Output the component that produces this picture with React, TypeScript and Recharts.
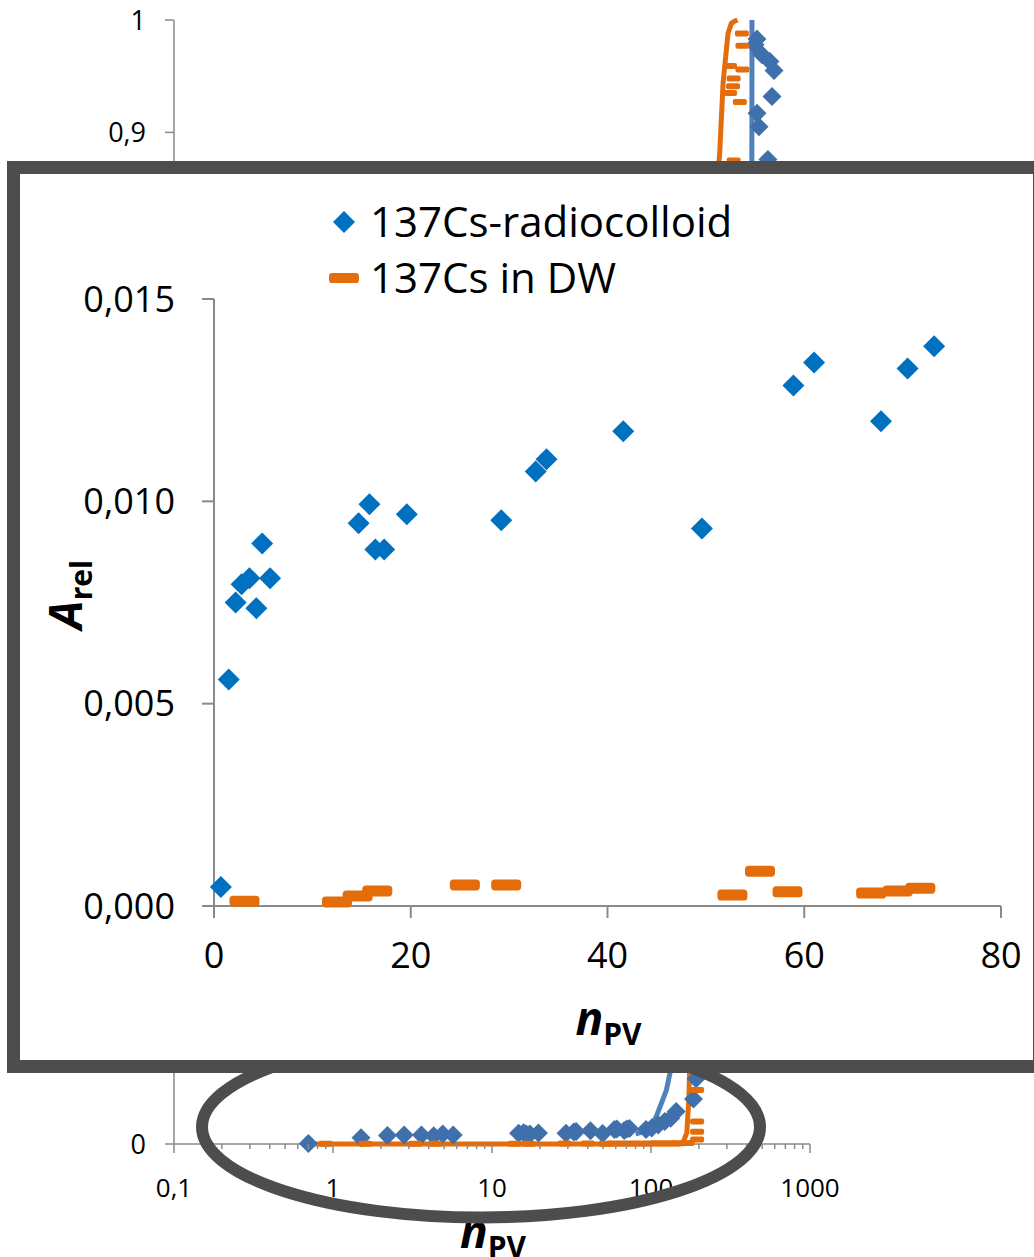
import React from 'react';
import { ScatterChart, Scatter, XAxis, YAxis, Legend, Label } from 'recharts';

// ---------- Inset (linear) data ----------
const colloidN = [0.7, 1.5, 2.2, 2.8, 3.6, 4.3, 4.9, 5.7, 14.7, 15.8, 16.4, 17.3, 19.6, 29.2, 32.7, 33.8, 41.6, 49.6, 58.9, 61.0, 67.8, 70.5, 73.2];
const colloidA = [0.00047, 0.0056, 0.0075, 0.00795, 0.0081, 0.00736, 0.00896, 0.0081, 0.00946, 0.00993, 0.00881, 0.00881, 0.00968, 0.00953, 0.01074, 0.01104, 0.01173, 0.00933, 0.01286, 0.01343, 0.01198, 0.01328, 0.01383];
const dwN = [3.1, 12.5, 14.6, 16.6, 25.5, 29.7, 52.7, 55.5, 58.3, 66.8, 69.5, 71.8];
const dwA = [0.00012, 0.0001, 0.00025, 0.00037, 0.00052, 0.00052, 0.00027, 0.00086, 0.00035, 0.00032, 0.00037, 0.00044];

// ---------- Background (log) data ----------
const colloidHighN = [93, 101, 111, 122, 133, 144, 185, 192, 195, 230, 300, 380, 430, 451, 475, 451, 464, 499, 560, 594, 577, 464, 478, 544];
const colloidHighA = [0.0128, 0.0142, 0.017, 0.02, 0.023, 0.029, 0.04, 0.058, 0.075, 0.2, 0.45, 0.7, 0.82, 0.862, 0.866, 0.978, 0.983, 0.969, 0.963, 0.955, 0.932, 0.917, 0.905, 0.876];
const dwBgN = [0.9, 1.6, 3.3, 4.4, 13.9, 17, 28.7, 40, 52, 58, 68, 80, 95, 110, 130, 150, 170, 195, 195, 195, 195, 331, 362, 314, 328, 331, 376, 314, 376, 373];
const dwBgA = [0.0002, 0.0002, 0.0002, 0.0002, 0.0002, 0.0003, 0.0005, 0.0004, 0.0003, 0.0004, 0.0004, 0.0005, 0.0005, 0.0006, 0.0006, 0.0007, 0.0008, 0.004, 0.011, 0.02, 0.048, 0.875, 0.927, 0.935, 0.941, 0.948, 0.956, 0.959, 0.977, 0.988];
const fitColloidN = [80, 91, 107, 125, 138, 170, 220, 300, 380, 420, 431, 431.5];
const fitColloidA = [0.009, 0.011, 0.023, 0.048, 0.077, 0.16, 0.3, 0.55, 0.75, 0.84, 0.862, 1.0];
const fitDwN = [0.75, 50, 150, 160, 168, 173, 176, 200, 240, 264, 271, 284, 305, 320, 335, 350];
const fitDwA = [0, 0, 0, 0.002, 0.01, 0.04, 0.08, 0.35, 0.7, 0.862, 0.884, 0.944, 0.988, 0.997, 0.999, 1.0];

// ---------- Ticks ----------
const insetXTicks = [0, 20, 40, 60, 80];
const insetYTicks = [0, 0.005, 0.01, 0.015];
// only the ticks of the background axis that are not covered by the inset
const bgYTicks = [0, 0.9, 1];
const bgMajorTicks = [0.1, 1, 10, 100, 1000];
const bgAllTicks = [0.1, 1, 10, 100].flatMap((d) => [1, 2, 3, 4, 5, 6, 7, 8, 9].map((k) => k * d)).concat([1000]);

const legendNames = ['137Cs-radiocolloid', '137Cs in DW'];

const FONT = "'Open Sans', 'Noto Sans', 'DejaVu Sans', sans-serif";
const AXIS = '#8a8a8a';
const BLUE_IN = '#0070C0';
const ORANGE = '#E46C0A';
const BLUE_BG = '#4070AB';
const BLUE_LINE = '#4F81BD';

const toPts = (xs: number[], ys: number[]) => xs.map((x, i) => ({ x, y: ys[i] }));

const insetColloid = toPts(colloidN, colloidA);
const insetDw = toPts(dwN, dwA);
const bgColloid = [...insetColloid, ...toPts(colloidHighN, colloidHighA)];
const bgDw = toPts(dwBgN, dwBgA);
const bgFitColloid = toPts(fitColloidN, fitColloidA);
const bgFitDw = toPts(fitDwN, fitDwA);

const diamond = (size: number, color: string) => (p: any) => {
  const { cx, cy } = p;
  if (cx == null || cy == null) return <g />;
  const h = size / 2;
  return <path d={`M${cx},${cy - h}L${cx + h},${cy}L${cx},${cy + h}L${cx - h},${cy}Z`} fill={color} />;
};
const dash = (w: number, h: number, color: string) => (p: any) => {
  const { cx, cy } = p;
  if (cx == null || cy == null) return <g />;
  return <rect x={cx - w / 2} y={cy - h / 2} width={w} height={h} rx={h / 3} fill={color} />;
};
const noShape = () => <g />;

const comma = (v: number, digits: number) => v.toFixed(digits).replace('.', ',');

const SubTitle = ({ x, y, main, sub, rotate }: any) => (
  <text
    x={x}
    y={y}
    textAnchor="middle"
    fontFamily={FONT}
    fill="#000"
    fontWeight="bold"
    transform={rotate ? `rotate(-90 ${x} ${y})` : undefined}
  >
    <tspan fontSize={46} fontStyle="italic">{main}</tspan>
    <tspan fontSize={30} dy={10}>{sub}</tspan>
  </text>
);

const LogTick = (props: any) => {
  const { x, y, payload } = props;
  const v = payload.value;
  const major = bgMajorTicks.some((m) => Math.abs(m - v) < 1e-9);
  return (
    <g>
      <line x1={x} x2={x} y1={y} y2={y + (major ? 9 : 5)} stroke={AXIS} strokeWidth={1.5} />
      {major && (
        <text x={x} y={y + 53} textAnchor="middle" fontSize={26} fontFamily={FONT} fill="#000">
          {String(v).replace('.', ',')}
        </text>
      )}
    </g>
  );
};

const LegendBox = () => (
  <svg width={1013} height={150} style={{ display: 'block' }}>
    {diamond(22, BLUE_IN)({ cx: 324, cy: 48 })}
    <text x={350} y={63} fontSize={42} fontFamily={FONT} fill="#000">{legendNames[0]}</text>
    {dash(30, 10, ORANGE)({ cx: 324, cy: 104 })}
    <text x={350} y={119} fontSize={42} fontFamily={FONT} fill="#000">{legendNames[1]}</text>
  </svg>
);

const BackgroundChart = () => (
  <ScatterChart width={1034} height={1257} margin={{ top: 20, right: 224, bottom: 53, left: 94 }}>
    <XAxis
      type="number"
      dataKey="x"
      scale="log"
      domain={[0.1, 1000]}
      allowDataOverflow
      ticks={bgAllTicks}
      interval={0}
      tickSize={0}
      tickMargin={0}
      tickLine={false}
      tick={<LogTick />}
      height={60}
      axisLine={{ stroke: AXIS, strokeWidth: 1.5 }}
    >
      <Label
        content={(p: any) => (
          <SubTitle x={p.viewBox.x + p.viewBox.width / 2 + 1} y={p.viewBox.y + 104} main="n" sub="PV" />
        )}
      />
    </XAxis>
    <YAxis
      type="number"
      dataKey="y"
      domain={[0, 1]}
      ticks={bgYTicks}
      interval={0}
      width={80}
      tickSize={9}
      tickMargin={19}
      tickLine={{ stroke: AXIS, strokeWidth: 1.5 }}
      axisLine={{ stroke: AXIS, strokeWidth: 1.5 }}
      tick={{ fontSize: 27, fontFamily: FONT, fill: '#000' }}
      tickFormatter={(v: number) => (v === 0 ? '0' : v === 1 ? '1' : comma(v, 1))}
    />
    <Scatter data={bgFitColloid} shape={noShape} line={{ stroke: BLUE_LINE, strokeWidth: 5 }} isAnimationActive={false} />
    <Scatter data={bgFitDw} shape={noShape} line={{ stroke: ORANGE, strokeWidth: 5 }} isAnimationActive={false} />
    <Scatter data={bgColloid} shape={diamond(19, BLUE_BG)} isAnimationActive={false} />
    <Scatter data={bgDw} shape={dash(14, 6, ORANGE)} isAnimationActive={false} />
  </ScatterChart>
);

const InsetChart = () => (
  <ScatterChart width={1013} height={886} margin={{ top: 125, right: 32, bottom: 94, left: 94 }}>
    <Legend
      layout="vertical"
      align="center"
      verticalAlign="middle"
      content={() => <LegendBox />}
      wrapperStyle={{ position: 'absolute', left: 0, top: 0, width: 1013, height: 150 }}
    />
    <XAxis
      type="number"
      dataKey="x"
      domain={[0, 80]}
      ticks={insetXTicks}
      interval={0}
      height={60}
      tickSize={12}
      tickMargin={24}
      tickLine={{ stroke: AXIS, strokeWidth: 2 }}
      axisLine={{ stroke: AXIS, strokeWidth: 2 }}
      tick={{ fontSize: 36, fontFamily: FONT, fill: '#000' }}
    >
      <Label
        content={(p: any) => (
          <SubTitle x={p.viewBox.x + p.viewBox.width / 2 + 1} y={p.viewBox.y + 129} main="n" sub="PV" />
        )}
      />
    </XAxis>
    <YAxis
      type="number"
      dataKey="y"
      domain={[0, 0.015]}
      ticks={insetYTicks}
      interval={0}
      width={100}
      tickSize={12}
      tickMargin={27}
      tickLine={{ stroke: AXIS, strokeWidth: 2 }}
      axisLine={{ stroke: AXIS, strokeWidth: 2 }}
      tick={{ fontSize: 36, fontFamily: FONT, fill: '#000' }}
      tickFormatter={(v: number) => comma(v, 3)}
    >
      <Label
        content={(p: any) => (
          <SubTitle x={p.viewBox.x - 32} y={p.viewBox.y + p.viewBox.height / 2 - 8} main="A" sub="rel" rotate />
        )}
      />
    </YAxis>
    <Scatter data={insetColloid} shape={diamond(22, BLUE_IN)} isAnimationActive={false} />
    <Scatter data={insetDw} shape={dash(30, 11, ORANGE)} isAnimationActive={false} />
  </ScatterChart>
);

export default function App() {
  return (
    <div
      style={{
        position: 'absolute',
        left: 0,
        top: 0,
        width: 1034,
        height: 1257,
        overflow: 'hidden',
        background: '#fff',
        fontFamily: FONT,
      }}
    >
      <div style={{ position: 'absolute', left: 0, top: 0 }}>
        <BackgroundChart />
      </div>
      <svg width={1034} height={1257} style={{ position: 'absolute', left: 0, top: 0, pointerEvents: 'none' }}>
        <ellipse cx={481} cy={1127} rx={279} ry={90.5} fill="none" stroke="#4d4d4d" strokeWidth={12} />
      </svg>
      <div
        style={{
          position: 'absolute',
          left: 7,
          top: 161,
          width: 1039,
          height: 912,
          border: '13px solid #4d4d4d',
          boxSizing: 'border-box',
          background: '#fff',
        }}
      >
        <InsetChart />
      </div>
    </div>
  );
}
